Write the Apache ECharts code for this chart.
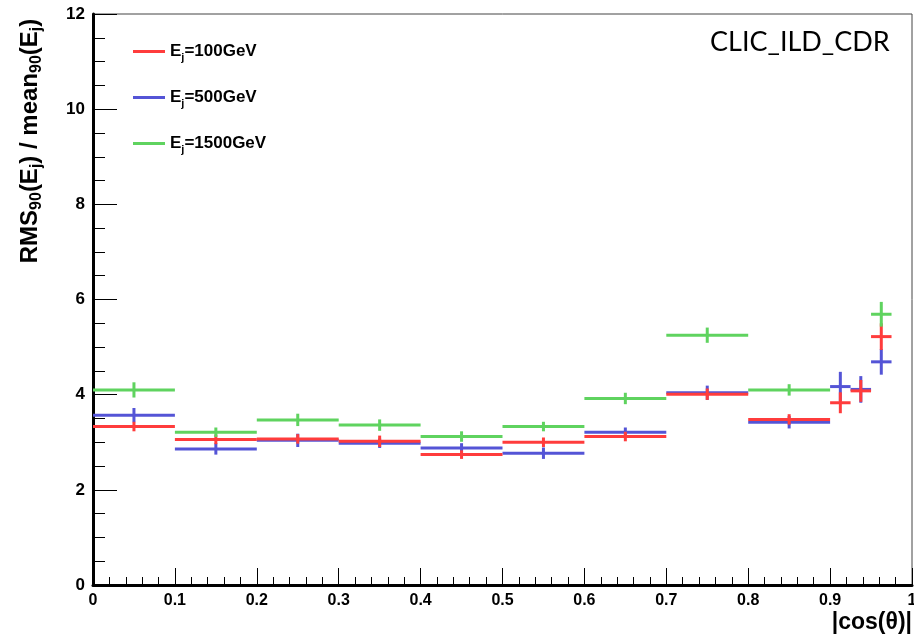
<!DOCTYPE html>
<html>
<head>
<meta charset="utf-8">
<script src="https://cdn.jsdelivr.net/npm/echarts@6/dist/echarts.min.js"></script>
<style>
  html, body { margin: 0; padding: 0; background: #fff; }
  #chart { width: 914px; height: 641px; }
</style>
</head>
<body>
<div id="chart"></div>
<script>
// |cos(theta)| bins: centres and half-widths
const binCenters = [0.05, 0.15, 0.25, 0.35, 0.45, 0.55, 0.65, 0.75, 0.85, 0.9125, 0.9375, 0.9625];
const binHalfWidths = [0.05, 0.05, 0.05, 0.05, 0.05, 0.05, 0.05, 0.05, 0.05, 0.0125, 0.0125, 0.0125];

// RMS90 / mean90 (in %) and errors per jet energy
const e100 = [3.33, 3.06, 3.07, 3.02, 2.74, 3.00, 3.12, 4.01, 3.48, 3.83, 4.08, 5.22];
const e100Err = [0.10, 0.10, 0.10, 0.12, 0.09, 0.10, 0.10, 0.12, 0.11, 0.22, 0.23, 0.28];
const e500 = [3.57, 2.86, 3.04, 2.98, 2.88, 2.77, 3.21, 4.04, 3.42, 4.17, 4.11, 4.69];
const e500Err = [0.15, 0.12, 0.14, 0.10, 0.10, 0.12, 0.10, 0.15, 0.13, 0.31, 0.28, 0.27];
const e1500 = [4.10, 3.21, 3.47, 3.36, 3.12, 3.33, 3.92, 5.25, 4.10, null, null, 5.69];
const e1500Err = [0.16, 0.10, 0.13, 0.12, 0.11, 0.10, 0.12, 0.16, 0.12, null, null, 0.26];

const seriesNames = ['100GeV', '500GeV', '1500GeV'];
const xTickLabels = ['0', '0.1', '0.2', '0.3', '0.4', '0.5', '0.6', '0.7', '0.8', '0.9', '1'];

function buildData(vals, errs) {
  const out = [];
  for (let i = 0; i < binCenters.length; i++) {
    if (vals[i] == null) continue;
    out.push([binCenters[i], vals[i], binHalfWidths[i], errs[i]]);
  }
  return out;
}

// error-cross marks: horizontal bin width + vertical error
function renderCross(params, api) {
  const x = api.value(0), y = api.value(1), dx = api.value(2), dy = api.value(3);
  const l = api.coord([x - dx, y]);
  const r = api.coord([x + dx, y]);
  const t = api.coord([x, y + dy]);
  const b = api.coord([x, y - dy]);
  const style = { stroke: api.visual('color'), lineWidth: 3 };
  return {
    type: 'group',
    children: [
      { type: 'line', shape: { x1: l[0], y1: l[1], x2: r[0], y2: r[1] }, style: style },
      { type: 'line', shape: { x1: t[0], y1: t[1], x2: b[0], y2: b[1] }, style: style }
    ]
  };
}

const colors = ['#ff3c3c', '#5454d6', '#5fd35f'];
const values = [[e100, e100Err], [e500, e500Err], [e1500, e1500Err]];
// draw order: 500 GeV underneath, then 100 GeV, then 1500 GeV
const order = [1, 0, 2];

const chart = echarts.init(document.getElementById('chart'), null, { renderer: 'canvas' });

const series = order.map(function (k) {
  return {
    name: seriesNames[k],
    type: 'custom',
    renderItem: renderCross,
    itemStyle: { color: colors[k] },
    encode: { x: 0, y: 1 },
    data: buildData(values[k][0], values[k][1]),
    z: 2 + order.indexOf(k)
  };
});

const labelFont = 'Liberation Sans, Arial, sans-serif';

chart.setOption({
  animation: false,
  backgroundColor: '#ffffff',
  grid: {
    left: 93, right: 2, top: 14, bottom: 56,
    outerBoundsMode: 'none',
    show: true, borderColor: '#444', borderWidth: 1, backgroundColor: 'transparent'
  },
  legend: {
    data: seriesNames,
    orient: 'vertical',
    left: 133, top: 43,
    padding: 0,
    itemGap: 26,
    itemWidth: 32, itemHeight: 3,
    icon: 'rect',
    formatter: function (name) { return '{b|E}{s|j}{b|=' + name + '}'; },
    textStyle: {
      rich: {
        b: { fontFamily: labelFont, fontWeight: 'bold', fontSize: 17, color: '#000' },
        s: { fontFamily: labelFont, fontWeight: 'bold', fontSize: 11, color: '#000', padding: [12, 0, 0, 0] }
      }
    }
  },
  xAxis: {
    type: 'value', min: 0, max: 1, interval: 0.1,
    axisLine: { show: true, onZero: false, lineStyle: { color: '#000', width: 3 } },
    axisTick: { show: true, inside: true, length: 17, lineStyle: { color: '#000', width: 1 } },
    minorTick: { show: true, splitNumber: 5, length: 8, lineStyle: { color: '#000', width: 1 } },
    splitLine: { show: false },
    axisLabel: {
      margin: 8, color: '#000', fontFamily: labelFont, fontWeight: 'bold', fontSize: 16,
      formatter: function (v) { return xTickLabels[Math.round(v * 10)]; }
    }
  },
  yAxis: {
    type: 'value', min: 0, max: 12, interval: 2,
    axisLine: { show: true, onZero: false, lineStyle: { color: '#000', width: 3 } },
    axisTick: { show: true, inside: true, length: 24, lineStyle: { color: '#000', width: 1 } },
    minorTick: { show: true, splitNumber: 4, length: 12, lineStyle: { color: '#000', width: 1 } },
    splitLine: { show: false },
    axisLabel: { margin: 8, color: '#000', fontFamily: labelFont, fontWeight: 'bold', fontSize: 17 }
  },
  graphic: [
    {
      type: 'text', x: 30, y: 141, rotation: Math.PI / 2,
      style: {
        text: '{t|RMS}{s|90}{t|(E}{s|j}{t|) / mean}{s|90}{t|(E}{s|j}{t|)}',
        align: 'center', verticalAlign: 'middle',
        rich: {
          t: { fontFamily: labelFont, fontWeight: 'bold', fontSize: 24, fill: '#000' },
          s: { fontFamily: labelFont, fontWeight: 'bold', fontSize: 16, fill: '#000', padding: [14, 0, 0, 0] }
        }
      }
    },
    {
      type: 'text', right: 2, top: 611,
      style: { text: '|cos(\u03b8)|', fontFamily: labelFont, fontWeight: 'bold', fontSize: 23, fill: '#000' }
    },
    {
      type: 'text', left: 710, top: 29,
      style: { text: 'CLIC_ILD_CDR', fontFamily: 'Lato, Open Sans, sans-serif', fontSize: 27, fill: '#000' }
    }
  ],
  series: series
});
</script>
</body>
</html>
